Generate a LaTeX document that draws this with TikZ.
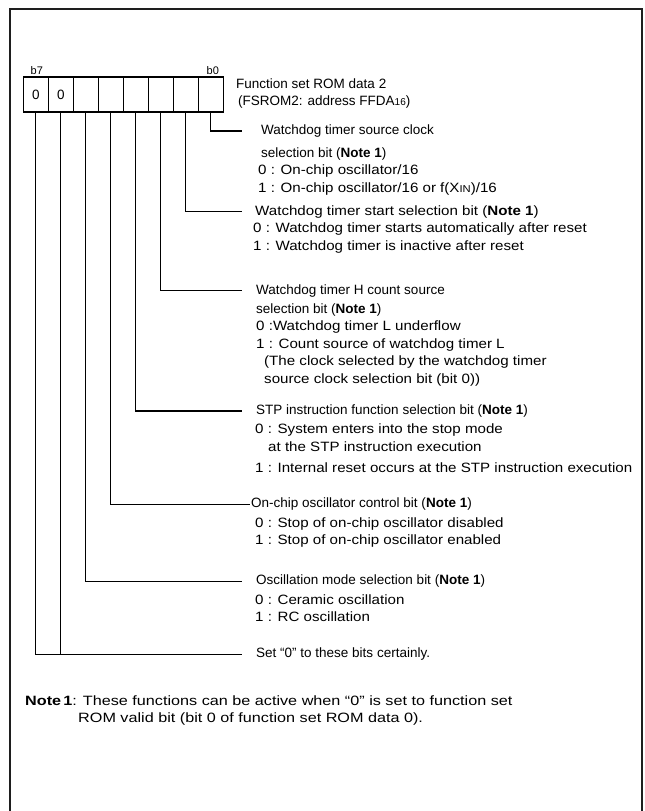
\documentclass[tikz,border=0pt]{standalone}
\usepackage{fontspec}
\setmainfont{Liberation Sans}
\newfontfamily\wdfont[FakeStretch=1.12]{Liberation Sans}
\newfontfamily\ntfont[FakeStretch=1.2]{Liberation Sans}
\usetikzlibrary{positioning,calc}
\definecolor{frGray}{HTML}{1E1E1E}
\newcommand{\rgfont}{\rmfamily\fontsize{13.5}{17.5}\selectfont}
\newcommand{\optfont}{\wdfont\fontsize{13.5}{17.5}\selectfont}
\newcommand{\subfnt}{\fontsize{10}{12}\selectfont}

\begin{document}
\begin{tikzpicture}[x=1pt, y=-1pt,
  bitc/.style={draw, line width=1.4pt, minimum width=25pt, minimum height=35pt, inner sep=0pt, font=\rgfont},
  bnum/.style={anchor=south, inner sep=1pt, font=\fontsize{11}{12}\selectfont},
  lead/.style={line width=1.3pt},
  ttl/.style={anchor=west, inner ysep=0pt, text height=10pt, text depth=3pt, font=\rgfont},
  dsc/.style={anchor=base west, inner sep=0pt, align=left, font=\optfont}]
\useasboundingbox (0,0) rectangle (645,811);
\draw[frGray, line width=2pt] (10,811) -- (10,9) -- (642,9) -- (642,811);

% ── register cells b7..b0 ──
\foreach \i/\v in {0/{},1/{},2/{},3/{},4/{},5/{},6/0,7/0}{\node[bitc] (b\i) at ({210.8-25*\i},94.5) {\v};}
\node[bnum] (lb7) at ([xshift=1pt]b7.north) {b7};
\node[bnum] (lb0) at ([xshift=2pt]b0.north) {b0};
\node[anchor=west, align=left, inner sep=0pt, font=\rgfont] (reg) at (236,93.5)
  {Function set ROM data 2\\\hspace*{2pt}(FSROM2: address FFDA{\subfnt 16})};

% ── bit descriptions (dsc nodes sit on the baseline of their last line) ──
\node[ttl, inner xsep=19pt] (t0) at (242,131) {Watchdog timer source clock};
\node[dsc] (d0) at (258,192) {\hspace*{3pt}{\rgfont selection bit (\textbf{Note 1})}\\
  0 : On-chip oscillator/16\\1 : On-chip oscillator/16 or f(X{\subfnt IN})/16};
\node[ttl, inner xsep=13pt, font=\optfont] (t1) at (242,211.7) {Watchdog timer start selection bit (\textbf{Note 1})};
\node[dsc] (d1) at (253,250) {0 : Watchdog timer starts automatically after reset\\
  1 : Watchdog timer is inactive after reset};
\node[ttl, inner xsep=14pt] (t2) at (242,290.7) {Watchdog timer H count source};
\node[dsc] (d2) at (256,383) {{\rgfont selection bit (\textbf{Note 1})}\\0 :Watchdog timer L underflow\\
  1 : Count source of watchdog timer L\\\hspace*{8pt}(The clock selected by the watchdog timer\\
  \hspace*{8pt}source clock selection bit (bit 0))};
\node[ttl, inner xsep=14pt] (t3) at (242,411) {STP instruction function selection bit (\textbf{Note 1})};
\node[dsc] (d3) at (255,472.5) {0 : System enters into the stop mode\\\hspace*{13pt}at the STP instruction execution\\[4pt]
  1 : Internal reset occurs at the STP instruction execution};
\node[ttl, inner xsep=1pt] (t4) at (250,504.3) {On-chip oscillator control bit (\textbf{Note 1})};
\node[dsc] (d4) at (255,544.5) {0 : Stop of on-chip oscillator disabled\\1 : Stop of on-chip oscillator enabled};
\node[ttl, inner xsep=14pt] (t5) at (242,581.3) {Oscillation mode selection bit (\textbf{Note 1})};
\node[dsc] (d5) at (255,621.5) {0 : Ceramic oscillation\\1 : RC oscillation};
\node[ttl, inner xsep=14pt] (t6) at (242,654.3) {Set “0” to these bits certainly.};

\foreach \i in {0,...,5}{\draw[lead] (b\i.south) |- (t\i.west);}
\draw[lead] (b7.south) |- (t6.west);
\draw[lead] (b6.south) -- (b6.south|-t6.west);

% ── note ──
\node[dsc, font=\ntfont\fontsize{13.5}{17.5}\selectfont] (note) at (25,722.5)
  {\textbf{Note\,1}: These functions can be active when “0” is set to function set\\
  \hspace*{53pt}ROM valid bit (bit 0 of function set ROM data 0).};
\end{tikzpicture}
\end{document}
